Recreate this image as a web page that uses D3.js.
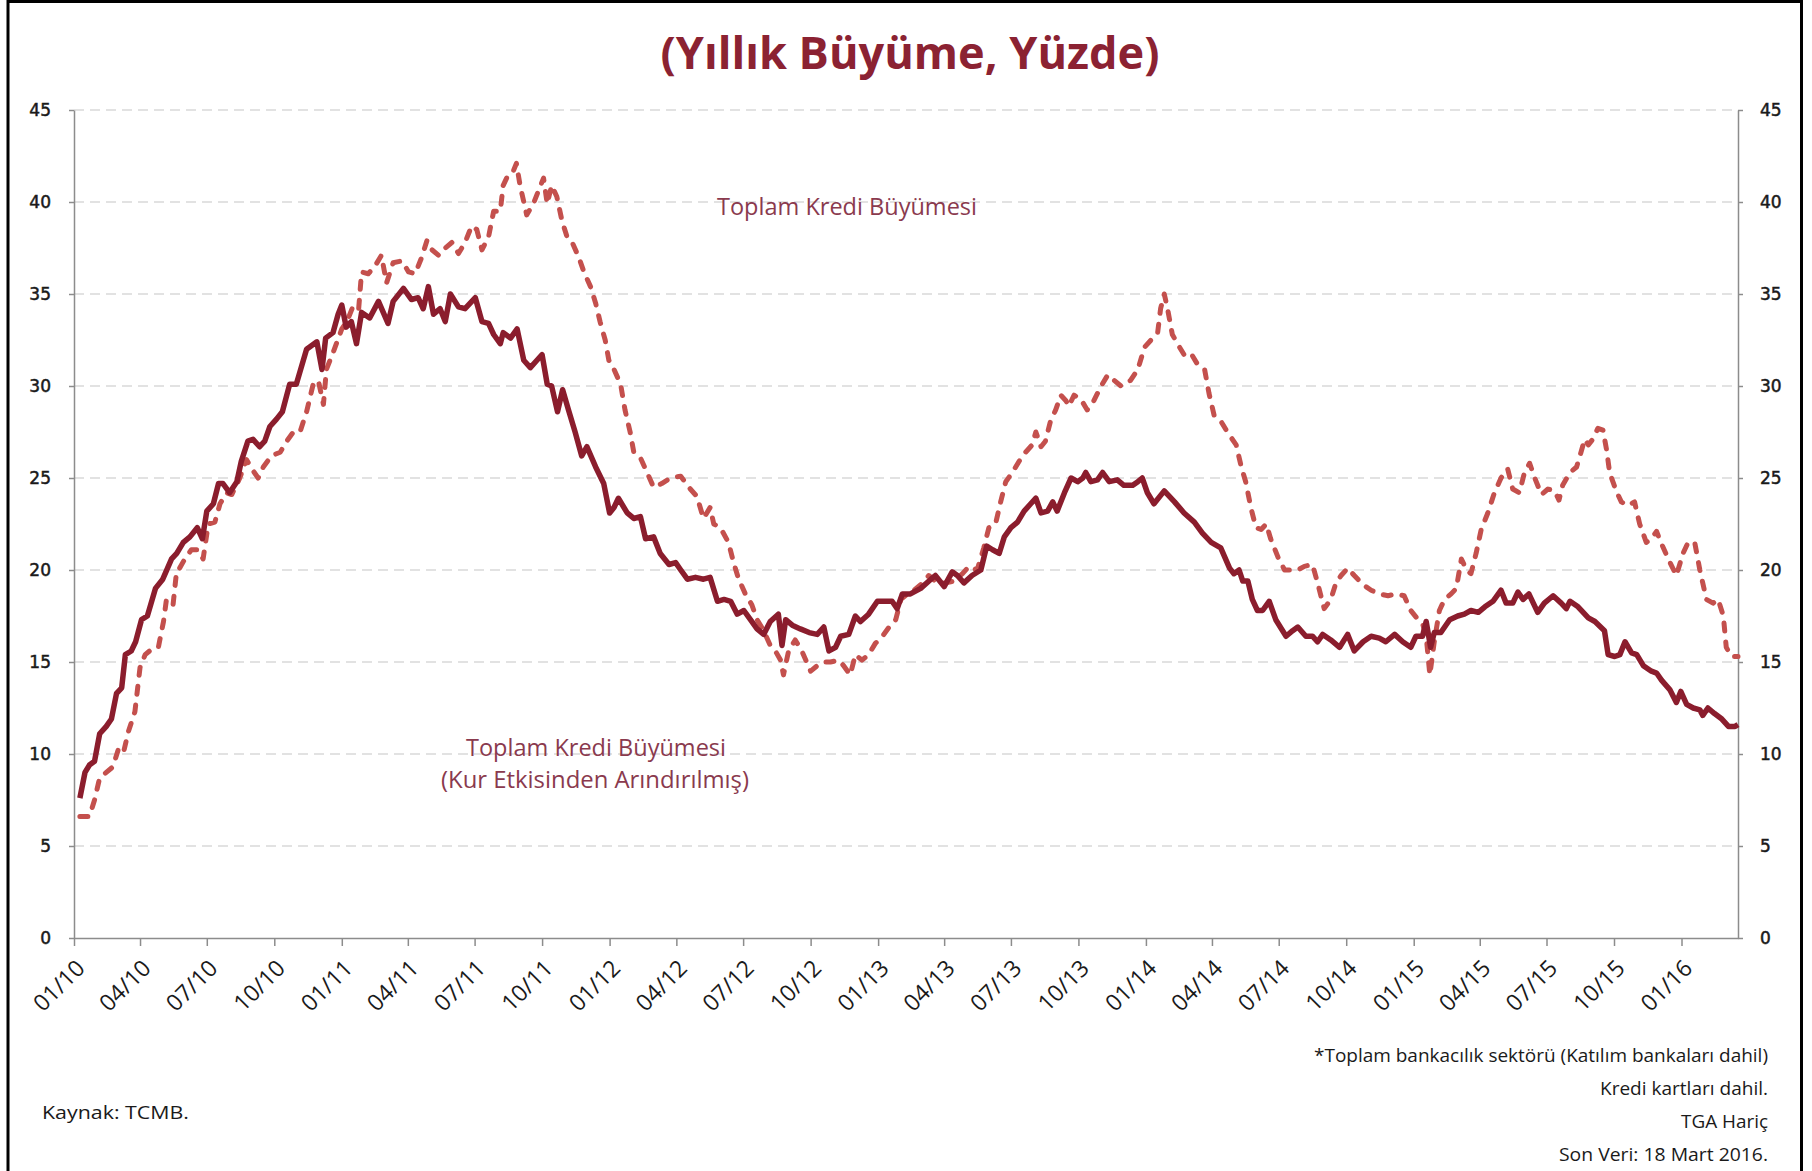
<!DOCTYPE html>
<html lang="tr">
<head>
<meta charset="utf-8">
<title>Yıllık Kredi Büyümesi</title>
<script src="https://cdn.jsdelivr.net/npm/d3@7"></script>
<style>
  html,body{margin:0;padding:0;background:#fff;}
  #chart{width:1812px;height:1171px;}
</style>
</head>
<body>
<div id="chart"></div>
<script>
// eksen ve etiketler
const yTicks=[0,5,10,15,20,25,30,35,40,45];
const xTickLabels=["01/10","04/10","07/10","10/10","01/11","04/11","07/11","10/11","01/12","04/12","07/12","10/12",
  "01/13","04/13","07/13","10/13","01/14","04/14","07/14","10/14","01/15","04/15","07/15","10/15","01/16"];
const xDomain=["2010-01-01","2016-03-18"];
const titleText="(Yıllık Büyüme, Yüzde)";
const seriesLabels=["Toplam Kredi Büyümesi","Toplam Kredi Büyümesi","(Kur Etkisinden Arındırılmış)"];
const footNotes=["*Toplam bankacılık sektörü (Katılım bankaları dahil)","Kredi kartları dahil.","TGA Hariç","Son Veri: 18 Mart 2016."];
const sourceText="Kaynak: TCMB.";

// Toplam Kredi Büyümesi (Kur Etkisinden Arındırılmış) - düz çizgi
const kurDates=[
 "2010-01-09","2010-01-16","2010-01-22","2010-01-29","2010-02-05","2010-02-14","2010-02-21","2010-02-28","2010-03-07","2010-03-12",
 "2010-03-20","2010-03-26","2010-04-03","2010-04-11","2010-04-22","2010-05-02","2010-05-14","2010-05-21","2010-05-30","2010-06-08",
 "2010-06-18","2010-06-25","2010-07-01","2010-07-10","2010-07-17","2010-07-23","2010-08-01","2010-08-11","2010-08-17","2010-08-26",
 "2010-09-02","2010-09-11","2010-09-18","2010-09-25","2010-10-04","2010-10-12","2010-10-22","2010-10-31","2010-11-14","2010-11-28",
 "2010-12-05","2010-12-10","2010-12-20","2010-12-27","2011-01-01","2011-01-07","2011-01-14","2011-01-21","2011-01-28","2011-02-08",
 "2011-02-20","2011-03-05","2011-03-12","2011-03-26","2011-04-06","2011-04-15","2011-04-22","2011-04-29","2011-05-06","2011-05-15",
 "2011-05-22","2011-05-29","2011-06-09","2011-06-18","2011-07-02","2011-07-11","2011-07-20","2011-07-27","2011-08-05","2011-08-09",
 "2011-08-19","2011-08-28","2011-09-06","2011-09-15","2011-09-24","2011-10-01","2011-10-08","2011-10-14","2011-10-22","2011-10-29",
 "2011-11-06","2011-11-15","2011-11-24","2011-12-01","2011-12-13","2011-12-24","2012-01-01","2012-01-07","2012-01-13","2012-01-25",
 "2012-02-03","2012-02-12","2012-02-19","2012-03-01","2012-03-10","2012-03-22","2012-03-31","2012-04-07","2012-04-16","2012-04-27",
 "2012-05-08","2012-05-17","2012-05-27","2012-06-05","2012-06-14","2012-06-23","2012-07-02","2012-07-11","2012-07-20","2012-07-29",
 "2012-08-07","2012-08-18","2012-08-23","2012-08-28","2012-09-06","2012-09-17","2012-09-29","2012-10-10","2012-10-19","2012-10-26",
 "2012-11-04","2012-11-11","2012-11-22","2012-12-01","2012-12-08","2012-12-19","2012-12-31","2013-01-11","2013-01-20","2013-01-27",
 "2013-02-03","2013-02-14","2013-02-28","2013-03-14","2013-03-20","2013-04-01","2013-04-12","2013-04-19","2013-04-28","2013-05-09",
 "2013-05-21","2013-05-29","2013-06-06","2013-06-15","2013-06-22","2013-07-01","2013-07-10","2013-07-19","2013-07-28","2013-08-04",
 "2013-08-11","2013-08-20","2013-08-27","2013-09-02","2013-09-12","2013-09-21","2013-09-30","2013-10-07","2013-10-11","2013-10-18",
 "2013-10-27","2013-11-03","2013-11-12","2013-11-23","2013-12-02","2013-12-14","2013-12-21","2013-12-27","2014-01-03","2014-01-12",
 "2014-01-26","2014-02-09","2014-02-22","2014-03-08","2014-03-19","2014-03-31","2014-04-13","2014-04-25","2014-05-01","2014-05-08",
 "2014-05-13","2014-05-20","2014-05-26","2014-06-02","2014-06-09","2014-06-18","2014-06-27","2014-07-11","2014-07-20","2014-07-27",
 "2014-08-07","2014-08-16","2014-08-23","2014-08-30","2014-09-10","2014-09-22","2014-10-03","2014-10-12","2014-10-24","2014-11-04",
 "2014-11-15","2014-11-24","2014-12-06","2014-12-17","2014-12-28","2015-01-04","2015-01-13","2015-01-18","2015-01-24","2015-01-29",
 "2015-02-07","2015-02-19","2015-03-02","2015-03-11","2015-03-20","2015-03-30","2015-04-08","2015-04-19","2015-04-30","2015-05-07",
 "2015-05-16","2015-05-23","2015-05-30","2015-06-07","2015-06-19","2015-06-28","2015-07-10","2015-07-21","2015-07-28","2015-08-02",
 "2015-08-13","2015-08-27","2015-09-05","2015-09-18","2015-09-23","2015-10-02","2015-10-09","2015-10-16","2015-10-25","2015-11-01",
 "2015-11-10","2015-11-21","2015-11-28","2015-12-05","2015-12-16","2015-12-25","2015-12-31","2016-01-08","2016-01-17","2016-01-26",
 "2016-01-30","2016-02-06","2016-02-15","2016-02-25","2016-03-05","2016-03-14","2016-03-18"
];
const kurValues=[
 7.6,9.0,9.4,9.6,11.1,11.5,11.9,13.3,13.6,15.4,
 15.6,16.1,17.3,17.5,19.0,19.5,20.6,20.9,21.5,21.8,
 22.3,21.7,23.2,23.6,24.7,24.7,24.2,24.8,25.9,27.0,
 27.1,26.7,27.0,27.8,28.2,28.6,30.1,30.1,32.0,32.4,
 30.9,32.6,32.9,33.9,34.4,33.2,33.5,32.3,34.0,33.7,
 34.6,33.4,34.6,35.3,34.7,34.8,34.2,35.4,33.9,34.2,
 33.5,35.0,34.3,34.2,34.8,33.5,33.4,32.8,32.3,32.9,
 32.6,33.1,31.4,31.0,31.4,31.7,30.1,30.0,28.6,29.8,
 28.7,27.5,26.2,26.7,25.6,24.7,23.1,23.4,23.9,23.1,
 22.8,22.9,21.7,21.8,20.9,20.3,20.4,20.0,19.5,19.6,
 19.5,19.6,18.3,18.4,18.3,17.6,17.8,17.3,16.8,16.5,
 17.2,17.6,15.9,17.3,17.0,16.8,16.6,16.5,16.9,15.6,
 15.8,16.4,16.5,17.5,17.2,17.6,18.3,18.3,18.3,17.9,
 18.7,18.7,19.0,19.5,19.7,19.1,19.9,19.7,19.3,19.7,
 20.0,21.3,21.1,20.9,21.8,22.3,22.6,23.2,23.6,23.9,
 23.1,23.2,23.7,23.2,24.2,25.0,24.8,25.0,25.3,24.8,
 24.9,25.3,24.8,24.9,24.6,24.6,24.8,25.0,24.2,23.6,
 24.3,23.7,23.1,22.6,22.0,21.5,21.2,20.1,19.8,20.0,
 19.4,19.4,18.4,17.8,17.8,18.3,17.3,16.4,16.7,16.9,
 16.4,16.4,16.1,16.5,16.2,15.8,16.5,15.6,16.1,16.4,
 16.3,16.1,16.5,16.1,15.8,16.4,16.4,17.2,15.8,16.6,
 16.6,17.3,17.5,17.6,17.8,17.7,18.0,18.3,18.9,18.2,
 18.2,18.8,18.4,18.7,17.7,18.2,18.6,18.2,17.9,18.3,
 18.0,17.4,17.2,16.7,15.4,15.3,15.4,16.1,15.5,15.4,
 14.8,14.5,14.4,14.0,13.5,12.8,13.4,12.7,12.5,12.4,
 12.1,12.5,12.2,11.9,11.5,11.5,11.6
];

// Toplam Kredi Büyümesi - kesikli çizgi
const toplamDates=[
 "2010-01-09","2010-01-22","2010-01-29","2010-02-05","2010-02-14","2010-02-23","2010-03-02","2010-03-09","2010-03-16","2010-03-25",
 "2010-04-01","2010-04-08","2010-04-17","2010-04-26","2010-05-03","2010-05-07","2010-05-16","2010-05-21","2010-05-25","2010-06-01",
 "2010-06-10","2010-06-19","2010-06-26","2010-07-03","2010-07-12","2010-07-19","2010-07-28","2010-08-04","2010-08-15","2010-08-24",
 "2010-09-02","2010-09-09","2010-09-16","2010-09-27","2010-10-09","2010-10-18","2010-10-27","2010-11-05","2010-11-14","2010-11-23",
 "2010-11-30","2010-12-07","2010-12-11","2010-12-20","2011-01-01","2011-01-08","2011-01-17","2011-01-24","2011-01-28","2011-02-06",
 "2011-02-15","2011-02-24","2011-03-03","2011-03-12","2011-03-24","2011-04-02","2011-04-11","2011-04-20","2011-04-27","2011-05-04",
 "2011-05-13","2011-05-22","2011-05-31","2011-06-09","2011-06-18","2011-06-27","2011-07-04","2011-07-11","2011-07-20","2011-07-27",
 "2011-08-05","2011-08-09","2011-08-16","2011-08-23","2011-08-27","2011-09-01","2011-09-10","2011-09-19","2011-09-26","2011-10-03",
 "2011-10-08","2011-10-14","2011-10-21","2011-10-28","2011-11-04","2011-11-11","2011-11-20","2011-11-27","2011-12-06","2011-12-13",
 "2011-12-19","2011-12-26","2011-12-31","2012-01-07","2012-01-16","2012-01-22","2012-01-29","2012-02-03","2012-02-12","2012-02-21",
 "2012-03-01","2012-03-12","2012-03-24","2012-04-07","2012-04-20","2012-04-29","2012-05-08","2012-05-17","2012-05-22","2012-05-31",
 "2012-06-11","2012-06-18","2012-06-25","2012-07-04","2012-07-13","2012-07-20","2012-07-29","2012-08-07","2012-08-14","2012-08-21",
 "2012-08-25","2012-09-01","2012-09-10","2012-09-19","2012-10-01","2012-10-10","2012-10-19","2012-10-28","2012-11-08","2012-11-15",
 "2012-11-24","2012-12-01","2012-12-10","2012-12-19","2012-12-28","2013-01-07","2013-01-16","2013-01-25","2013-02-01","2013-02-10",
 "2013-02-19","2013-02-28","2013-03-11","2013-03-23","2013-04-03","2013-04-14","2013-04-26","2013-05-05","2013-05-16","2013-05-25",
 "2013-06-01","2013-06-10","2013-06-17","2013-06-24","2013-07-03","2013-07-12","2013-07-21","2013-07-30","2013-08-04","2013-08-11",
 "2013-08-17","2013-08-24","2013-08-31","2013-09-07","2013-09-14","2013-09-18","2013-09-25","2013-10-04","2013-10-13","2013-10-22",
 "2013-11-01","2013-11-10","2013-11-19","2013-11-28","2013-12-11","2013-12-21","2013-12-30","2014-01-08","2014-01-17","2014-01-21",
 "2014-01-26","2014-01-30","2014-02-06","2014-02-13","2014-02-22","2014-03-03","2014-03-12","2014-03-22","2014-03-28","2014-04-04",
 "2014-04-13","2014-04-22","2014-05-04","2014-05-11","2014-05-17","2014-05-24","2014-05-31","2014-06-07","2014-06-14","2014-06-20",
 "2014-06-30","2014-07-09","2014-07-18","2014-07-27","2014-08-05","2014-08-16","2014-08-23","2014-09-01","2014-09-10","2014-09-17",
 "2014-09-24","2014-10-03","2014-10-12","2014-10-24","2014-11-04","2014-11-15","2014-11-27","2014-12-08","2014-12-19","2014-12-28",
 "2015-01-07","2015-01-13","2015-01-18","2015-01-23","2015-01-29","2015-02-05","2015-02-12","2015-02-21","2015-02-28","2015-03-07",
 "2015-03-14","2015-03-20","2015-03-27","2015-04-03","2015-04-12","2015-04-21","2015-04-30","2015-05-09","2015-05-16","2015-05-25",
 "2015-06-01","2015-06-08","2015-06-15","2015-06-24","2015-07-03","2015-07-12","2015-07-18","2015-07-23","2015-08-02","2015-08-11",
 "2015-08-17","2015-08-22","2015-08-27","2015-09-02","2015-09-09","2015-09-16","2015-09-21","2015-09-25","2015-10-04","2015-10-11",
 "2015-10-20","2015-10-29","2015-11-05","2015-11-14","2015-11-21","2015-11-28","2015-12-05","2015-12-14","2015-12-25","2016-01-03",
 "2016-01-10","2016-01-19","2016-01-26","2016-02-04","2016-02-13","2016-02-20","2016-02-27","2016-03-02","2016-03-09","2016-03-18"
];
const toplamValues=[
 6.6,6.6,7.5,8.7,9.0,9.3,10.2,10.0,11.2,12.3,
 14.7,15.4,15.7,15.8,17.2,18.4,18.1,20.0,20.1,20.6,
 21.1,21.1,20.6,22.5,22.6,23.6,24.2,24.1,25.0,26.0,
 25.4,25.0,25.6,26.2,26.4,27.0,27.5,27.5,28.6,30.1,
 30.3,29.0,30.9,31.8,33.1,33.5,34.4,34.2,36.2,36.1,
 36.5,37.1,35.6,36.7,36.8,36.2,36.1,37.0,37.9,37.4,
 37.1,37.5,37.8,37.2,37.8,38.7,38.5,37.4,38.1,39.5,
 39.5,40.9,41.5,41.7,42.1,40.9,39.3,39.9,40.6,41.3,
 39.9,40.9,40.3,39.0,38.1,37.8,37.0,36.2,35.4,34.5,
 33.5,32.5,31.4,30.9,30.1,28.7,27.5,26.4,26.1,25.3,
 24.5,24.7,25.0,25.1,24.4,24.0,22.8,23.4,22.5,22.3,
 21.5,20.4,19.5,18.7,18.1,17.3,16.7,15.9,15.6,15.1,
 14.3,15.6,16.2,15.6,14.5,14.8,15.0,15.0,15.1,14.8,
 14.3,15.4,15.1,15.4,16.0,16.4,16.9,17.3,18.4,18.7,
 18.9,19.2,19.7,19.3,19.3,19.4,19.8,20.2,20.0,21.2,
 22.3,22.5,23.7,24.8,25.3,25.9,26.4,26.8,27.5,26.7,
 27.0,28.1,28.7,29.5,29.2,28.9,29.5,29.3,28.7,29.2,
 30.0,30.6,30.3,30.0,30.3,30.9,32.1,32.5,32.9,34.2,
 35.0,34.3,32.8,32.3,31.7,31.8,31.2,30.9,29.6,28.4,
 28.1,27.5,26.8,25.6,24.8,23.4,22.3,22.2,22.5,21.7,
 20.7,20.0,20.0,20.0,20.2,20.3,19.3,17.9,18.4,19.3,
 19.7,20.1,19.7,19.2,18.9,18.7,18.6,18.7,18.6,17.8,
 17.3,17.1,16.4,14.3,16.1,17.8,18.4,18.7,19.0,20.6,
 20.0,19.8,20.9,22.2,23.1,24.2,25.0,25.5,24.4,24.2,
 25.3,25.8,25.0,24.1,24.4,24.3,23.8,24.6,25.3,25.6,
 26.4,27.1,26.8,27.1,27.7,27.6,26.5,25.3,24.3,23.7,
 23.5,23.7,22.5,21.5,21.7,22.1,21.4,20.6,19.7,20.9,
 21.5,21.5,20.0,18.4,18.2,18.4,17.5,15.8,15.3,15.3
];

(function(){
  const W=1812,H=1171,LEFT=74,RIGHT=1738,TOP=110,BOTTOM=938;
  const LABEL="#8a3a4e",TITLE="#8b2232",SOLID="#8b1d2d",DASHED="#c4504d",AXIS="#8c8c8c";
  const parseDay=d3.timeParse('%Y-%m-%d'), parseTick=d3.timeParse('%m/%y');

  const svg=d3.select('#chart').append('svg')
              .attr('width',W).attr('height',H)
              .style('font-family',"'Open Sans',sans-serif");

  const x=d3.scaleTime().domain(xDomain.map(parseDay)).range([LEFT,RIGHT]);
  const y=d3.scaleLinear().domain([0,45]).range([BOTTOM,TOP]);

  // çerçeve (alt kenar yok)
  svg.append('path').attr('d',`M8,${H}V1.5H1801.5V${H}`)
     .attr('fill','none').attr('stroke','#000').attr('stroke-width',3);

  // başlık
  svg.append('text').attr('x',910).attr('y',69).attr('text-anchor','middle')
     .attr('font-size',44).attr('font-weight',700).attr('fill',TITLE)
     .attr('textLength',499).attr('lengthAdjust','spacingAndGlyphs')
     .text(titleText);

  // yatay kılavuz çizgileri
  svg.append('g').selectAll('line').data(yTicks.filter(v=>v>0)).join('line')
     .attr('x1',LEFT).attr('x2',RIGHT).attr('y1',d=>y(d)).attr('y2',d=>y(d))
     .attr('stroke','#d9d9d9').attr('stroke-width',1.5).attr('stroke-dasharray','10,6');

  const styleAxis=g=>{
    g.selectAll('path,line').attr('stroke',AXIS).attr('stroke-width',1.5);
    g.selectAll('text').attr('fill','#1a1a1a');
  };
  const boldish=g=>g.selectAll('text').attr('stroke','#1a1a1a').attr('stroke-width',0.5);

  svg.append('g').attr('transform',`translate(${LEFT},0)`)
     .call(d3.axisLeft(y).tickValues(yTicks).tickSize(5).tickSizeOuter(0).tickPadding(18))
     .attr('font-family','DejaVu Sans').attr('font-size',17)
     .call(styleAxis).call(boldish);

  svg.append('g').attr('transform',`translate(${RIGHT},0)`)
     .call(d3.axisRight(y).tickValues(yTicks).tickSize(5).tickSizeOuter(0).tickPadding(17))
     .attr('font-family','DejaVu Sans').attr('font-size',17)
     .call(styleAxis).call(boldish);

  const xg=svg.append('g').attr('transform',`translate(0,${BOTTOM})`)
     .call(d3.axisBottom(x).tickValues(xTickLabels.map(parseTick))
             .tickFormat(d3.timeFormat('%m/%y')).tickSize(8).tickSizeOuter(0))
     .attr('font-family',"'Open Sans',sans-serif").attr('font-size',23)
     .call(styleAxis);
  xg.selectAll('.tick text')
     .attr('x',0).attr('y',0).attr('dy','0.35em').attr('text-anchor','end')
     .attr('transform','translate(6,26) rotate(-45)');

  // seriler
  const toSeries=(dates,values)=>dates.map((d,i)=>({date:parseDay(d),value:values[i]}));
  const line=d3.line().x(d=>x(d.date)).y(d=>y(d.value));

  svg.append('path').datum(toSeries(toplamDates,toplamValues))
     .attr('d',line).attr('fill','none').attr('stroke',DASHED).attr('stroke-width',5)
     .attr('stroke-dasharray','8,11').attr('stroke-linecap','round').attr('stroke-linejoin','round');

  svg.append('path').datum(toSeries(kurDates,kurValues))
     .attr('d',line).attr('fill','none').attr('stroke',SOLID).attr('stroke-width',5.5)
     .attr('stroke-linejoin','round');

  // seri etiketleri
  const lbl=(t,x0,y0,len)=>svg.append('text').attr('x',x0).attr('y',y0).attr('font-size',24)
     .attr('fill',LABEL).attr('textLength',len).attr('lengthAdjust','spacingAndGlyphs').text(t);
  lbl(seriesLabels[0],717,215,260);
  lbl(seriesLabels[1],466,756,260);
  lbl(seriesLabels[2],441,788,308);

  // dipnotlar
  const notes=svg.append('g').attr('font-size',19).attr('fill','#1a1a1a').attr('text-anchor','end');
  const noteLen=[454,168,87,209];
  notes.selectAll('text').data(footNotes).join('text')
     .attr('x',1768).attr('y',(d,i)=>1062+i*33)
     .attr('textLength',(d,i)=>noteLen[i]).attr('lengthAdjust','spacingAndGlyphs')
     .text(d=>d);

  svg.append('text').attr('x',42).attr('y',1119).attr('font-size',19).attr('fill','#1a1a1a')
     .attr('textLength',147).attr('lengthAdjust','spacingAndGlyphs').text(sourceText);
})();
</script>
</body>
</html>
